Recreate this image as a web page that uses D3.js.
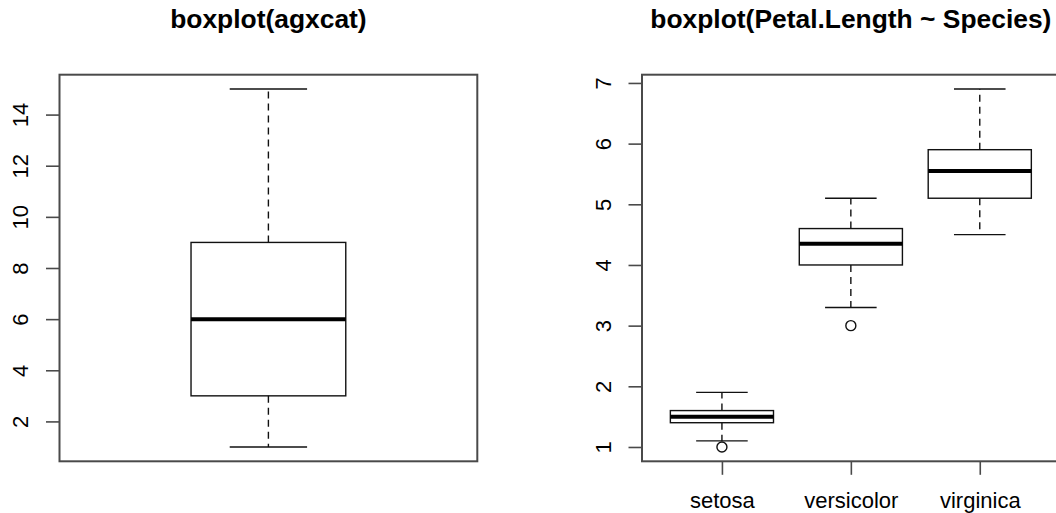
<!DOCTYPE html>
<html>
<head>
<meta charset="utf-8">
<script src="https://cdn.jsdelivr.net/npm/d3@7"></script>
<style>
  html, body { margin: 0; padding: 0; background: #fff; }
  svg { display: block; font-family: "Liberation Sans", Arial, Helvetica, sans-serif; }
</style>
</head>
<body>
<svg id="chart" width="1056" height="513"></svg>
<script>
// Left panel: single boxplot of agxcat
const agxStats = [1, 3, 6, 9, 15];          // lower whisker, Q1, median, Q3, upper whisker
const agxOutliers = [];
const agxTicks = [2, 4, 6, 8, 10, 12, 14];

// Right panel: Petal.Length by Species
const species = ["setosa", "versicolor", "virginica"];
const petalStats = [
  [1.1, 1.4, 1.5, 1.6, 1.9],
  [3.3, 4.0, 4.35, 4.6, 5.1],
  [4.5, 5.1, 5.55, 5.9, 6.9]
];
const petalOutliers = [[1.0], [3.0], []];
const petalTicks = [1, 2, 3, 4, 5, 6, 7];

const svg = d3.select("#chart");
const FONT = 22;
const BORDER = "#4a4a4a";

function panel(opts) {
  const { left, right, top, bottom, xDomain, yDomain, title, stats, outliers,
          positions, boxWidth, yTicks, xLabels } = opts;
  const x = d3.scaleLinear().domain(xDomain).range([left, right]);
  const y = d3.scaleLinear().domain(yDomain).range([bottom, top]);
  const g = svg.append("g");

  // title
  g.append("text")
    .attr("x", (left + right) / 2).attr("y", 28)
    .attr("text-anchor", "middle")
    .attr("font-weight", "bold")
    .attr("font-size", FONT * 1.2)
    .attr("fill", "#000")
    .text(title);

  // y axis with labels parallel to the axis
  const yAxis = g.append("g")
    .attr("transform", `translate(${left},0)`)
    .call(d3.axisLeft(y).tickValues(yTicks).tickSize(13.5).tickFormat(d3.format("d")));
  yAxis.select(".domain").remove();
  yAxis.selectAll(".tick line").attr("stroke", BORDER).attr("stroke-width", 1.6);
  yAxis.selectAll(".tick text")
    .attr("x", null).attr("dy", null)
    .attr("transform", "translate(-31.5,0) rotate(-90)")
    .attr("text-anchor", "middle")
    .attr("font-size", FONT)
    .attr("font-family", "Liberation Sans, Arial, Helvetica, sans-serif")
    .attr("fill", "#000");

  // x axis (categories)
  if (xLabels) {
    const xAxis = g.append("g")
      .attr("transform", `translate(0,${bottom})`)
      .call(d3.axisBottom(x).tickValues(positions).tickSize(13.5)
        .tickFormat((d, i) => xLabels[i]));
    xAxis.select(".domain").remove();
    xAxis.selectAll(".tick line").attr("stroke", BORDER).attr("stroke-width", 1.6);
    xAxis.selectAll(".tick text")
      .attr("y", 47).attr("dy", null)
      .attr("font-size", FONT)
      .attr("font-family", "Liberation Sans, Arial, Helvetica, sans-serif")
      .attr("fill", "#000");
  }

  // boxes
  stats.forEach((s, i) => {
    const cx = positions[i];
    const [lo, q1, med, q3, hi] = s;
    const bx0 = x(cx - boxWidth / 2), bx1 = x(cx + boxWidth / 2);
    const sx0 = x(cx - boxWidth / 4), sx1 = x(cx + boxWidth / 4);
    const px = x(cx);
    const bg = g.append("g");
    // whiskers
    bg.append("line").attr("x1", px).attr("x2", px).attr("y1", y(q3)).attr("y2", y(hi))
      .attr("stroke", "#111").attr("stroke-width", 1.4).attr("stroke-dasharray", "7,5");
    bg.append("line").attr("x1", px).attr("x2", px).attr("y1", y(q1)).attr("y2", y(lo))
      .attr("stroke", "#111").attr("stroke-width", 1.4).attr("stroke-dasharray", "7,5");
    // staples
    bg.append("line").attr("x1", sx0).attr("x2", sx1).attr("y1", y(hi)).attr("y2", y(hi))
      .attr("stroke", "#111").attr("stroke-width", 1.4);
    bg.append("line").attr("x1", sx0).attr("x2", sx1).attr("y1", y(lo)).attr("y2", y(lo))
      .attr("stroke", "#111").attr("stroke-width", 1.4);
    // box
    bg.append("rect").attr("x", bx0).attr("y", y(q3))
      .attr("width", bx1 - bx0).attr("height", y(q1) - y(q3))
      .attr("fill", "none").attr("stroke", "#111").attr("stroke-width", 1.4);
    // median
    bg.append("line").attr("x1", bx0).attr("x2", bx1).attr("y1", y(med)).attr("y2", y(med))
      .attr("stroke", "#000").attr("stroke-width", 4);
    // outliers
    (outliers[i] || []).forEach(v => {
      bg.append("circle").attr("cx", px).attr("cy", y(v)).attr("r", 5)
        .attr("fill", "none").attr("stroke", "#111").attr("stroke-width", 1.4);
    });
  });

  // plot frame
  g.append("rect")
    .attr("x", left).attr("y", top)
    .attr("width", right - left).attr("height", bottom - top)
    .attr("fill", "none").attr("stroke", BORDER).attr("stroke-width", 2);
}

panel({
  left: 59.5, right: 477.3, top: 74.7, bottom: 461.3,
  xDomain: [0.46, 1.54], yDomain: [0.44, 15.56],
  title: "boxplot(agxcat)",
  stats: [agxStats], outliers: [agxOutliers],
  positions: [1], boxWidth: 0.4, yTicks: agxTicks, xLabels: null
});

panel({
  left: 642, right: 1059.7, top: 74.7, bottom: 461.3,
  xDomain: [0.38, 3.62], yDomain: [0.764, 7.136],
  title: "boxplot(Petal.Length ~ Species)",
  stats: petalStats, outliers: petalOutliers,
  positions: [1, 2, 3], boxWidth: 0.8, yTicks: petalTicks, xLabels: species
});
</script>
</body>
</html>
